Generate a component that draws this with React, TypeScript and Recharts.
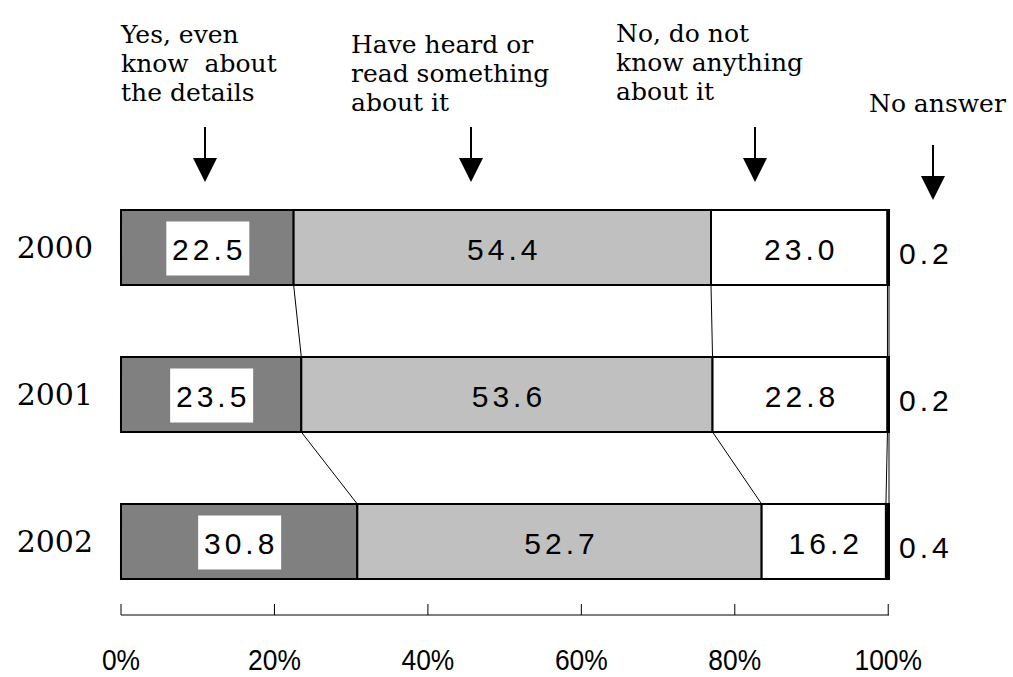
import React from "react";
import { BarChart, Bar, XAxis, YAxis, LabelList, ReferenceLine } from "recharts";

// survey years and answer shares (percent of respondents)
const years = ["2000", "2001", "2002"];
const knowDetails = [22.5, 23.5, 30.8];
const heardSomething = [54.4, 53.6, 52.7];
const knowNothing = [23.0, 22.8, 16.2];
const noAnswer = [0.2, 0.2, 0.4];
const percentTicks = [0, 20, 40, 60, 80, 100];

const headings = [
  { x: 121, lines: ["Yes, even", "know  about", "the details"], top: 43 },
  { x: 351, lines: ["Have heard or", "read something", "about it"], top: 53 },
  { x: 616, lines: ["No, do not", "know anything", "about it"], top: 42 },
  { x: 869, lines: ["No answer"], top: 112 },
];
const arrows = [
  { x: 205, top: 127 },
  { x: 471, top: 127 },
  { x: 755, top: 127 },
  { x: 933, top: 145 },
];

const W = 1013;
const H = 677;
const MARGIN = { top: 174, right: 124, bottom: 0, left: 0 };
const X_AXIS_H = 62;
const BAR_SIZE = 75;
const SERIF = "'DejaVu Serif', serif";
const SANS = "'Liberation Sans', Arial, sans-serif";

// row i occupies [i, i+1] on the hidden numeric axis; pos is the row middle
const rows = years.map((year, i) => ({
  year,
  pos: i + 0.5,
  details: knowDetails[i],
  heard: heardSomething[i],
  nothing: knowNothing[i],
  none: noAnswer[i],
}));

// boundaries between stacked segments, used for the connector lines
const boundaries = years.map((_, i) => {
  const a = knowDetails[i];
  const b = a + heardSomething[i];
  const c = b + knowNothing[i];
  const d = c + noAnswer[i];
  return [a, b, c, d];
});

const bandPx = (H - MARGIN.top - MARGIN.bottom - X_AXIS_H) / years.length;
const halfBar = BAR_SIZE / 2 / bandPx;
const connectors: { x1: number; y1: number; x2: number; y2: number }[] = [];
for (let i = 0; i < years.length - 1; i++) {
  boundaries[i].forEach((b, k) => {
    connectors.push({
      x1: b,
      y1: i + 0.5 + halfBar,
      x2: boundaries[i + 1][k],
      y2: i + 1.5 - halfBar,
    });
  });
}

const fmt = (v: number) => v.toFixed(1);

const valueStyle = { fontFamily: SANS, fontSize: 30, letterSpacing: 4, fill: "#000" };

function BoxedLabel(props: any) {
  const { x, y, width, height, value } = props;
  const cx = x + width / 2;
  const cy = y + height / 2;
  return (
    <g>
      <rect x={cx - 41} y={cy - 26} width={83} height={54} fill="#fff" />
      <text x={cx + 2} y={cy + 2} textAnchor="middle" dominantBaseline="central" style={valueStyle}>
        {fmt(value)}
      </text>
    </g>
  );
}

function CenterLabel(props: any) {
  const { x, y, width, height, value } = props;
  return (
    <text
      x={x + width / 2 + 2}
      y={y + height / 2 + 2}
      textAnchor="middle"
      dominantBaseline="central"
      style={valueStyle}
    >
      {fmt(value)}
    </text>
  );
}

function RightLabel(props: any) {
  const { x, y, width, height, value } = props;
  return (
    <text x={x + width + 10} y={y + height / 2 + 6} dominantBaseline="central" style={valueStyle}>
      {fmt(value)}
    </text>
  );
}

function YearTick(props: any) {
  const { x, y, payload } = props;
  return (
    <text x={x} y={y} textAnchor="end" dominantBaseline="central" style={{ fontFamily: SERIF, fontSize: 30, fill: "#000" }}>
      {payload.value}
    </text>
  );
}

function PercentTick(props: any) {
  const { x, y, payload } = props;
  return (
    <g>
      <line x1={x} x2={x} y1={y - 11} y2={y} stroke="#000" strokeWidth={1} />
      <text
        transform={`translate(${x},${y + 55}) scale(0.88,1)`}
        textAnchor="middle"
        style={{ fontFamily: SANS, fontSize: 30, fill: "#000" }}
      >
        {payload.value}%
      </text>
    </g>
  );
}

export default function App() {
  return (
    <div style={{ position: "absolute", left: 0, top: 0, width: W, height: H, background: "#fff" }}>
      <BarChart width={W} height={H} data={rows} layout="vertical" margin={MARGIN} barSize={BAR_SIZE}>
        <XAxis
          type="number"
          domain={[0, 100.1]}
          ticks={percentTicks}
          height={X_AXIS_H}
          tickSize={0}
          tickMargin={0}
          tickLine={false}
          axisLine={{ stroke: "#000", strokeWidth: 1 }}
          tick={<PercentTick />}
          interval={0}
        />
        <YAxis
          type="category"
          dataKey="year"
          width={121}
          axisLine={false}
          tickLine={false}
          tickSize={0}
          tickMargin={28}
          tick={<YearTick />}
        />
        <YAxis yAxisId="pos" type="number" dataKey="pos" domain={[0, 3]} hide allowDataOverflow />
        <Bar dataKey="details" stackId="a" fill="#808080" stroke="#000" strokeWidth={2} isAnimationActive={false}>
          <LabelList dataKey="details" content={<BoxedLabel />} />
        </Bar>
        <Bar dataKey="heard" stackId="a" fill="#c0c0c0" stroke="#000" strokeWidth={2} isAnimationActive={false}>
          <LabelList dataKey="heard" content={<CenterLabel />} />
        </Bar>
        <Bar dataKey="nothing" stackId="a" fill="#ffffff" stroke="#000" strokeWidth={2} isAnimationActive={false}>
          <LabelList dataKey="nothing" content={<CenterLabel />} />
        </Bar>
        <Bar dataKey="none" stackId="a" fill="#000" stroke="#000" strokeWidth={2} isAnimationActive={false}>
          <LabelList dataKey="none" content={<RightLabel />} />
        </Bar>
        {connectors.map((c, i) => (
          <ReferenceLine
            key={i}
            yAxisId="pos"
            ifOverflow="visible"
            stroke="#000"
            strokeWidth={1}
            segment={[
              { x: c.x1, y: c.y1 },
              { x: c.x2, y: c.y2 },
            ]}
          />
        ))}
      </BarChart>
      <svg width={W} height={H} style={{ position: "absolute", left: 0, top: 0, pointerEvents: "none" }}>
        {headings.map((h, i) => (
          <text key={i} style={{ fontFamily: SERIF, fontSize: 25, fill: "#000", whiteSpace: "pre" }}>
            {h.lines.map((line, j) => (
              <tspan key={j} x={h.x} y={h.top + j * 29}>
                {line}
              </tspan>
            ))}
          </text>
        ))}
        {arrows.map((a, i) => (
          <g key={i}>
            <line x1={a.x} x2={a.x} y1={a.top} y2={a.top + 33} stroke="#000" strokeWidth={2} />
            <polygon points={`${a.x - 12},${a.top + 31} ${a.x + 12},${a.top + 31} ${a.x},${a.top + 55}`} fill="#000" />
          </g>
        ))}
      </svg>
    </div>
  );
}
